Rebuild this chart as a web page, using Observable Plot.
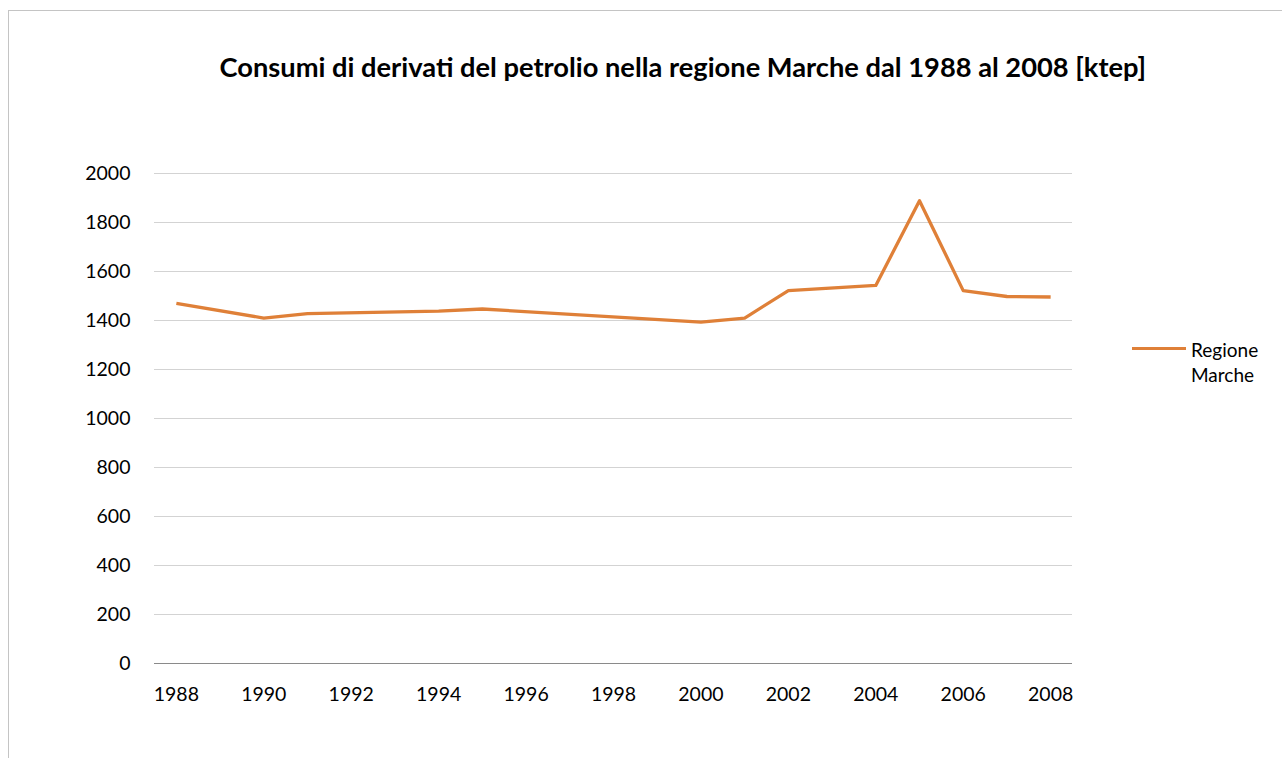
<!DOCTYPE html>
<html>
<head>
<meta charset="utf-8">
<script src="https://cdn.jsdelivr.net/npm/d3@7"></script>
<script src="https://cdn.jsdelivr.net/npm/@observablehq/plot@0.6"></script>
<style>
  html, body { margin: 0; padding: 0; background: #fff; overflow: hidden; }
  body { width: 1282px; height: 758px; position: relative; font-family: Lato, "Open Sans", sans-serif; }
  #box { position: absolute; left: 8px; top: 10px; width: 1300px; height: 800px;
         border-left: 1px solid #c4c4c4; border-top: 1px solid #c4c4c4; }
  #chart { position: absolute; left: 9px; top: 11px; }
  #title { position: absolute; white-space: nowrap; font-weight: bold; color: #000; line-height: 1; }
  #legend-swatch { position: absolute; left: 1132px; top: 347px; width: 54px; height: 3px; }
  #legend-text { position: absolute; left: 1191px; top: 337px; font-size: 19px; line-height: 25px; color: #000; }
</style>
</head>
<body>
<div id="box"></div>
<div id="chart"></div>
<div id="title"></div>
<div id="legend-swatch"></div>
<div id="legend-text"></div>
<script>
// ---- data ----
const titleText = "Consumi di derivati del petrolio nella regione Marche dal 1988 al 2008 [ktep]";
const seriesName = ["Regione", "Marche"];
const years  = [1988, 1990, 1991, 1994, 1995, 2000, 2001, 2002, 2004, 2005, 2006, 2007, 2008];
const values = [1470, 1410, 1428, 1438, 1447, 1393, 1410, 1522, 1543, 1889, 1522, 1498, 1496];
const xTicks = [1988, 1990, 1992, 1994, 1996, 1998, 2000, 2002, 2004, 2006, 2008];
const yTicks = [0, 200, 400, 600, 800, 1000, 1200, 1400, 1600, 1800, 2000];
const lineColor = "#df8038";

const data = years.map((y, i) => ({year: y, value: values[i]}));

const chart = Plot.plot({
  width: 1273,
  height: 747,
  marginLeft: 145,
  marginRight: 210,
  marginTop: 162,
  marginBottom: 95,
  style: {fontFamily: "Lato, 'Open Sans', sans-serif", fontSize: "19.5px", color: "#000", background: "transparent", overflow: "visible"},
  x: {domain: [1987.5, 2008.5], label: null},
  y: {domain: [0, 2000], label: null},
  marks: [
    Plot.ruleY(yTicks.filter(d => d > 0), {stroke: "#d3d3d3", strokeWidth: 1}),
    Plot.ruleY([0], {stroke: "#8a8a8a", strokeWidth: 1}),
    Plot.axisX({ticks: xTicks, tickFormat: d => String(d), tickSize: 0, tickPadding: 24, label: null, fill: "#000"}),
    Plot.axisY({ticks: yTicks, tickFormat: d => String(d), tickSize: 0, tickPadding: 24, label: null, fill: "#000"}),
    Plot.line(data, {x: "year", y: "value", stroke: lineColor, strokeWidth: 3.3, strokeLinejoin: "round", strokeLinecap: "butt"})
  ]
});
document.getElementById("chart").appendChild(chart);

// title: fit to target width and centre
const title = document.getElementById("title");
title.textContent = titleText;
const cv = document.createElement("canvas").getContext("2d");
cv.font = "bold 20px Lato";
const w20 = cv.measureText(titleText).width;
const targetW = 927;
const fs = 20 * targetW / w20;
title.style.fontSize = fs + "px";
title.style.fontFamily = "Lato, 'Open Sans', sans-serif";
const centerX = 683;
title.style.left = (centerX - targetW / 2) + "px";
// baseline near y = 77 with line-height 1
title.style.top = (77 - fs * 0.887) + "px";

document.getElementById("legend-swatch").style.background = lineColor;
document.getElementById("legend-text").innerHTML = seriesName.join("<br>");
</script>
</body>
</html>
